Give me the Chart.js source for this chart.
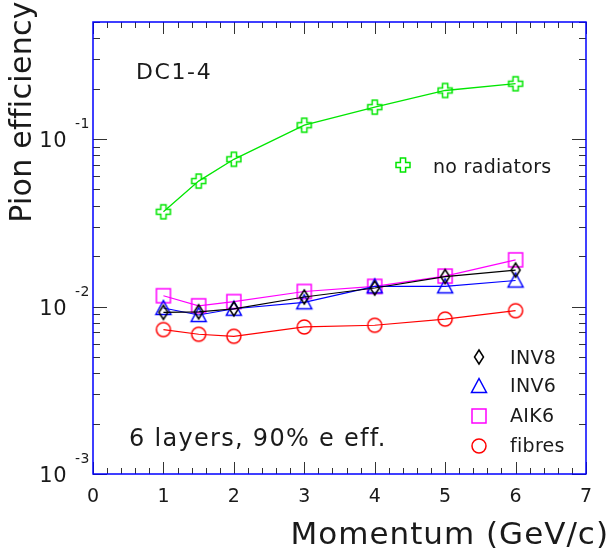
<!DOCTYPE html>
<html><head><meta charset="utf-8">
<script src="https://cdn.jsdelivr.net/npm/chart.js@4"></script>
<style>html,body{margin:0;padding:0;background:#fff}</style>
</head><body>
<canvas id="c" width="612" height="552"></canvas>
<script>
// ---- data ----
const momentum    = [1, 1.5, 2, 3, 4, 5, 6];
const noRadiators = [0.0368, 0.0561, 0.0757, 0.121, 0.155, 0.195, 0.214];
const inv8        = [0.00923, 0.0093, 0.00968, 0.0114, 0.0129, 0.0151, 0.0165];
const inv6        = [0.0098, 0.0089, 0.0097, 0.0106, 0.0132, 0.0132, 0.0143];
const aik6        = [0.0116, 0.0101, 0.0107, 0.0123, 0.0132, 0.0152, 0.0190];
const fibres      = [0.00728, 0.00683, 0.00664, 0.00755, 0.00773, 0.00841, 0.00944];
const xTickLabels = ['0','1','2','3','4','5','6','7'];
const yTickExponents = [-3, -2, -1];

const FONT = '"DejaVu Sans", "Liberation Sans", sans-serif';
const GREEN = '#00e600', BLUE = '#0000ff', MAGENTA = '#ff00ff', RED = '#ff0000', BLACK = '#000000';

function marker(kind, color) {
  const s = 20, c = document.createElement('canvas');
  c.width = s; c.height = s;
  const g = c.getContext('2d');
  g.translate(s / 2, s / 2);
  g.strokeStyle = color; g.lineWidth = 1.5; g.lineJoin = 'miter';
  g.beginPath();
  if (kind === 'cross') {
    const a = 2.6, b = 7;
    const p = [[-a,-b],[a,-b],[a,-a],[b,-a],[b,a],[a,a],[a,b],[-a,b],[-a,a],[-b,a],[-b,-a],[-a,-a]];
    g.moveTo(p[0][0], p[0][1]);
    for (let i = 1; i < p.length; i++) g.lineTo(p[i][0], p[i][1]);
    g.closePath();
  } else if (kind === 'diamond') {
    g.moveTo(0,-7); g.lineTo(4.5,0); g.lineTo(0,7); g.lineTo(-4.5,0); g.closePath();
  } else if (kind === 'triangle') {
    g.moveTo(0,-7.5); g.lineTo(7.5,6.5); g.lineTo(-7.5,6.5); g.closePath();
  } else if (kind === 'square') {
    g.rect(-7,-7,14,14);
  } else {
    g.arc(0,0,7,0,Math.PI*2);
  }
  g.stroke();
  return c;
}

const series = [
  { label: 'no radiators', values: noRadiators, color: GREEN,   kind: 'cross',    lw: 1.3 },
  { label: 'INV8',         values: inv8,        color: BLACK,   kind: 'diamond',  lw: 1.2 },
  { label: 'INV6',         values: inv6,        color: BLUE,    kind: 'triangle', lw: 1.2 },
  { label: 'AIK6',         values: aik6,        color: MAGENTA, kind: 'square',   lw: 1.2 },
  { label: 'fibres',       values: fibres,      color: RED,     kind: 'circle',   lw: 1.2 },
];
series.forEach(s => s.img = marker(s.kind, s.color));

function txt(ctx, s, x, y, font, align, spacing) {
  ctx.font = font; ctx.textAlign = align;
  ctx.letterSpacing = (spacing || 0) + 'px';
  ctx.fillText(s, x, y);
  ctx.letterSpacing = '0px';
}

const decor = {
  id: 'decor',
  afterDraw(chart) {
    const ctx = chart.ctx, a = chart.chartArea;
    const xs = chart.scales.x, ys = chart.scales.y;
    ctx.save();
    // ticks
    ctx.strokeStyle = '#333'; ctx.lineWidth = 1;
    ctx.beginPath();
    for (let i = 0; i <= 35; i++) {
      const v = i / 5, px = Math.round(xs.getPixelForValue(v)) + 0.5;
      const L = (i % 5 === 0) ? 12 : 6;
      ctx.moveTo(px, a.bottom); ctx.lineTo(px, a.bottom - L);
      ctx.moveTo(px, a.top); ctx.lineTo(px, a.top + L);
    }
    for (let e = -3; e <= -1; e++) {
      for (let m = 1; m <= 9; m++) {
        const v = m * Math.pow(10, e);
        if (v > ys.max * 1.0001) continue;
        const py = Math.round(ys.getPixelForValue(v)) + 0.5;
        const L = (m === 1) ? 14 : 7;
        ctx.moveTo(a.left, py); ctx.lineTo(a.left + L, py);
        ctx.moveTo(a.right, py); ctx.lineTo(a.right - L, py);
      }
    }
    ctx.stroke();
    // frame
    ctx.strokeStyle = BLUE; ctx.lineWidth = 1.5;
    ctx.strokeRect(a.left, a.top, a.right - a.left, a.bottom - a.top);

    ctx.fillStyle = '#1a1a1a';
    ctx.textBaseline = 'alphabetic';
    // x tick labels
    xTickLabels.forEach((t, i) => txt(ctx, t, xs.getPixelForValue(i), 502, '19px ' + FONT, 'center', 0));
    // y tick labels with superscripts
    yTickExponents.forEach(e => {
      const py = ys.getPixelForValue(Math.pow(10, e));
      txt(ctx, '10', 67, py + 8, '21px ' + FONT, 'right', 0.5);
      txt(ctx, String(e), 75, py - 11, '14px ' + FONT, 'left', 0.5);
    });
    // axis titles
    txt(ctx, 'Momentum (GeV/c)', 609, 544, '31px ' + FONT, 'right', 1);
    ctx.save();
    ctx.translate(31, 112); ctx.rotate(-Math.PI / 2);
    txt(ctx, 'Pion efficiency', 0, 0, '30px ' + FONT, 'center', 0.3);
    ctx.restore();
    // annotations
    txt(ctx, 'DC1-4', 136, 79, '22px ' + FONT, 'left', 1.6);
    txt(ctx, '6 layers, 90% e eff.', 129, 446, '24px ' + FONT, 'left', 1.3);
    // legend
    const leg = [
      { s: series[0], mx: 403, my: 165, tx: 433, ty: 173 },
      { s: series[1], mx: 479, my: 357, tx: 510, ty: 364 },
      { s: series[2], mx: 479, my: 386, tx: 510, ty: 392 },
      { s: series[3], mx: 479, my: 416, tx: 510, ty: 422 },
      { s: series[4], mx: 479, my: 446, tx: 510, ty: 452 },
    ];
    leg.forEach(l => {
      ctx.drawImage(l.s.img, l.mx - l.s.img.width / 2, l.my - l.s.img.height / 2);
      txt(ctx, l.s.label, l.tx, l.ty, '19px ' + FONT, 'left', 0.3);
    });
    ctx.restore();
  }
};

new Chart(document.getElementById('c'), {
  type: 'scatter',
  data: {
    datasets: series.map(s => ({
      label: s.label,
      data: momentum.map((x, i) => ({ x: x, y: s.values[i] })),
      showLine: true,
      borderColor: s.color,
      borderWidth: s.lw,
      pointStyle: s.img,
      pointRadius: 7,
      fill: false,
      tension: 0
    }))
  },
  options: {
    responsive: false,
    devicePixelRatio: 1,
    animation: false,
    events: [],
    layout: { padding: { left: 93, right: 26, top: 22, bottom: 78 } },
    plugins: { legend: { display: false }, tooltip: { enabled: false } },
    scales: {
      x: { type: 'linear', min: 0, max: 7, display: false },
      y: { type: 'logarithmic', min: 0.001, max: 0.5, display: false }
    }
  },
  plugins: [decor]
});
</script>
</body></html>
